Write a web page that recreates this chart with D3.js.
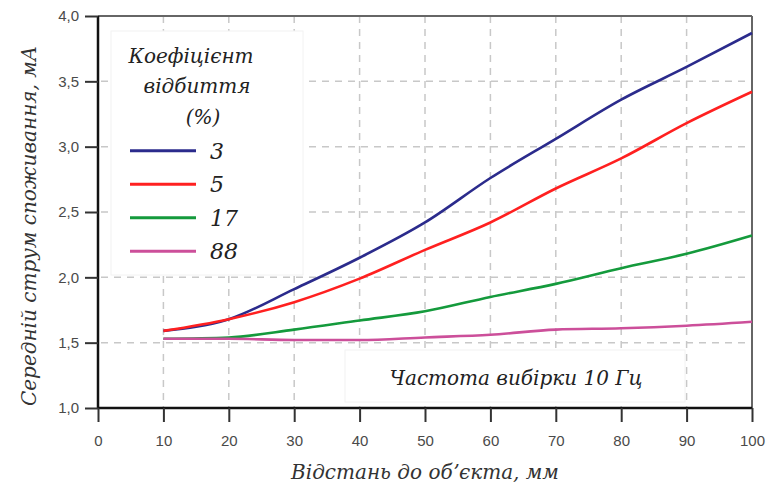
<!DOCTYPE html>
<html><head><meta charset="utf-8">
<script src="https://cdn.jsdelivr.net/npm/d3@7"></script>
<style>body{margin:0;background:#fff}svg{display:block}</style>
</head><body><svg id="c" width="768" height="492"></svg>
<script>
const distances = [10,20,30,40,50,60,70,80,90,100];
const series3  = [1.59,1.68,1.91,2.15,2.42,2.76,3.06,3.36,3.61,3.87];
const series5  = [1.59,1.68,1.81,1.99,2.21,2.42,2.68,2.91,3.18,3.42];
const series17 = [1.53,1.54,1.60,1.67,1.74,1.85,1.95,2.07,2.18,2.32];
const series88 = [1.53,1.53,1.52,1.52,1.54,1.56,1.60,1.61,1.63,1.66];
const seriesLabels = ["3","5","17","88"];
const seriesColors = ["#2b2b8c","#ff2020","#149a3c","#cc4f9a"];
const xTicks = [0,10,20,30,40,50,60,70,80,90,100];
const yTicks = [1.0,1.5,2.0,2.5,3.0,3.5,4.0];
const yTitle = "Середній струм споживання, мА";
const xTitle = "Відстань до об\u02BCєкта, мм";
const legendTitle = ["Коефіцієнт","відбиття","(%)"];
const note = "Частота вибірки 10 Гц";

const allSeries = [series3, series5, series17, series88];
const svg = d3.select("#c");
const L=98, R=752, T=16, B=408;
const x = d3.scaleLinear().domain([0,100]).range([L,R]);
const y = d3.scaleLinear().domain([1,4]).range([B,T]);
const SERIF = "DejaVu Serif";

const g = svg.append("g");
g.selectAll("line.vx").data(xTicks.filter(d=>d>0&&d<100)).join("line")
  .attr("x1",d=>x(d)).attr("x2",d=>x(d)).attr("y1",T).attr("y2",B)
  .attr("stroke","#c8c8c8").attr("stroke-width",1.5).attr("stroke-dasharray","7,6");
g.selectAll("line.hy").data(yTicks.filter(d=>d>1&&d<4)).join("line")
  .attr("x1",L).attr("x2",R).attr("y1",d=>y(d)).attr("y2",d=>y(d))
  .attr("stroke","#c8c8c8").attr("stroke-width",1.5).attr("stroke-dasharray","7,6")
  .attr("stroke-dashoffset",-3);

svg.append("rect").attr("x",111).attr("y",31).attr("width",192).attr("height",244)
  .attr("fill","#fff").attr("stroke","#f2f2f2");
svg.append("rect").attr("x",345).attr("y",350).attr("width",340).attr("height",52)
  .attr("fill","#fff").attr("stroke","#f2f2f2");

svg.append("line").attr("x1",L).attr("x2",R).attr("y1",T).attr("y2",T).attr("stroke","#666").attr("stroke-width",2);
svg.append("line").attr("x1",R).attr("x2",R).attr("y1",T).attr("y2",B).attr("stroke","#666").attr("stroke-width",2);

const line = d3.line().x((d,i)=>x(distances[i])).y(d=>y(d)).curve(d3.curveMonotoneX);
allSeries.forEach((s,k)=>{
  svg.append("path").datum(s).attr("d",line).attr("fill","none")
    .attr("stroke",seriesColors[k]).attr("stroke-width",2.6);
});

const xAxis = d3.axisBottom(x).tickValues(xTicks).tickSize(14).tickPadding(13).tickFormat(d3.format("d"));
const yAxis = d3.axisLeft(y).tickValues(yTicks).tickSize(13).tickPadding(6).tickFormat(d=>d.toFixed(1).replace(".",","));
const xa = svg.append("g").attr("transform",`translate(0,${B})`).call(xAxis);
const ya = svg.append("g").attr("transform",`translate(${L},0)`).call(yAxis);
[xa,ya].forEach(a=>{
  a.select(".domain").attr("stroke","#111").attr("stroke-width",2.5);
  a.selectAll(".tick line").attr("stroke","#333").attr("stroke-width",2);
  a.selectAll(".tick text").attr("fill","#4a4a4a").attr("font-family","Liberation Sans").attr("font-size",15);
});
xa.select(".domain").attr("d",`M${L},0H${R}`);
ya.select(".domain").attr("d",`M0,${B}V${T}`);

function ital(sel){ return sel.attr("font-family",SERIF).attr("font-style","italic"); }

ital(svg.append("text")).attr("transform",`translate(36,226) rotate(-90)`).attr("text-anchor","middle")
  .attr("font-size",20).attr("fill","#333").text(yTitle);
ital(svg.append("text")).attr("x",425).attr("y",479).attr("text-anchor","middle")
  .attr("font-size",20).attr("fill","#333").text(xTitle);
ital(svg.append("text")).attr("x",516).attr("y",385).attr("text-anchor","middle")
  .attr("font-size",20).attr("fill","#222").text(note);

const lty = [63,93,124];
const lcx = [191,197,203];
legendTitle.forEach((t,i)=>{
  ital(svg.append("text")).attr("x",lcx[i]).attr("y",lty[i]).attr("text-anchor","middle")
    .attr("font-size",20).attr("fill","#222").text(t);
});
const ly = d3.scaleBand().domain(seriesLabels).range([134,268]);
seriesLabels.forEach((lab,k)=>{
  const yy = ly(lab)+ly.bandwidth()/2;
  svg.append("line").attr("x1",130).attr("x2",196).attr("y1",yy).attr("y2",yy)
    .attr("stroke",seriesColors[k]).attr("stroke-width",3);
  ital(svg.append("text")).attr("x",210).attr("y",yy+8)
    .attr("font-size",22).attr("fill","#222").text(lab);
});
</script></body></html>
